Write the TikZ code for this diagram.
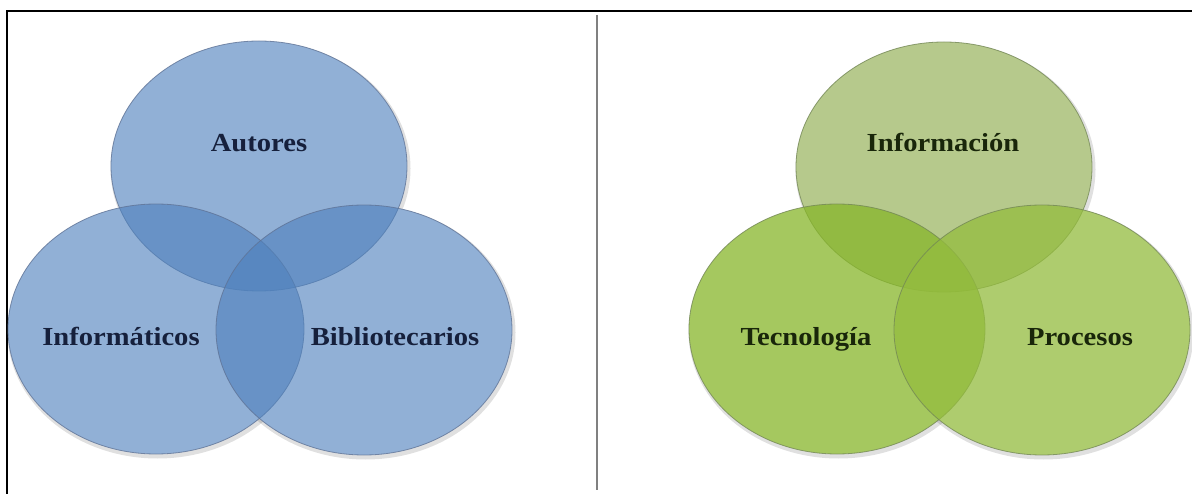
\documentclass[tikz,border=0pt]{standalone}
\usepackage{fontspec}
\usepackage{graphicx}
\setmainfont{Liberation Serif}
\usetikzlibrary{shapes.geometric}
\definecolor{bluebase}{RGB}{79,129,189}
\definecolor{blueline}{RGB}{95,115,150}
\definecolor{bluetext}{RGB}{22,32,60}
\definecolor{gtop}{RGB}{158,184,102}
\definecolor{gleft}{RGB}{135,182,42}
\definecolor{gright}{RGB}{148,188,62}
\definecolor{greenline}{RGB}{115,135,85}
\definecolor{greentext}{RGB}{25,38,10}
\definecolor{sepgray}{RGB}{128,128,128}
\tikzset{
  vc/.style={ellipse, minimum width=296pt, minimum height=250pt, inner sep=0pt, line width=0.8pt},
  shade0/.style={ellipse, minimum width=300pt, minimum height=254pt, inner sep=0pt, fill=black, fill opacity=0.12},
  blank/.style={vc, fill=white},
  bluecirc/.style={vc, fill=bluebase, fill opacity=0.62, draw=blueline, draw opacity=0.8},
  greencirc/.style={vc, fill opacity=0.75, draw=greenline, draw opacity=0.8},
  lbl/.style={font=\fontsize{26}{30}\selectfont\bfseries, anchor=base, inner sep=0pt},
  bluelbl/.style={lbl, text=bluetext},
  greenlbl/.style={lbl, text=greentext},
  frameline/.style={line width=2.5pt, black},
  sepline/.style={line width=2pt, sepgray}
}
\newcommand{\wide}[1]{\scalebox{1.1}[1]{#1}}
\begin{document}
\begin{tikzpicture}[x=1pt,y=-1pt]
\useasboundingbox (0,0) rectangle (1192,494);
\fill[white] (0,0) rectangle (1192,494);
% frame
\coordinate (fbl) at (7,494);
\coordinate (ftl) at (7,11);
\coordinate (ftr) at (1192,11);
\draw[frameline] (fbl) -- (ftl) -- (ftr);
% separator
\coordinate (stop) at (597,15);
\coordinate (sbot) at (597,490);
\draw[sepline] (stop) -- (sbot);
% soft shadows
\foreach \p [count=\i] in {(260.5,168.5),(157.5,331.5),(365.5,332.5),(945.5,169.5),(838.5,331.5),(1043.5,332.5)}
  \node[shade0] (sh\i) at \p {};
\foreach \p [count=\i] in {(259,166),(156,329),(364,330),(944,167),(837,329),(1042,330)}
  \node[blank] (wb\i) at \p {};
% blue venn
\node[bluecirc] (autC) at (259,166) {};
\node[bluecirc] (infC) at (156,329) {};
\node[bluecirc] (bibC) at (364,330) {};
\node[bluelbl] (autL) at (259,152) {\wide{Autores}};
\node[bluelbl] (infL) at (121,346) {\wide{Informáticos}};
\node[bluelbl] (bibL) at (395,346) {\wide{Bibliotecarios}};
% green venn
\node[greencirc, fill=gtop] (iacC) at (944,167) {};
\node[greencirc, fill=gleft] (tecC) at (837,329) {};
\node[greencirc, fill=gright] (proC) at (1042,330) {};
\node[greenlbl] (iacL) at (943,152) {\wide{Información}};
\node[greenlbl] (tecL) at (806,346) {\wide{Tecnología}};
\node[greenlbl] (proL) at (1080,346) {\wide{Procesos}};
\end{tikzpicture}
\end{document}
